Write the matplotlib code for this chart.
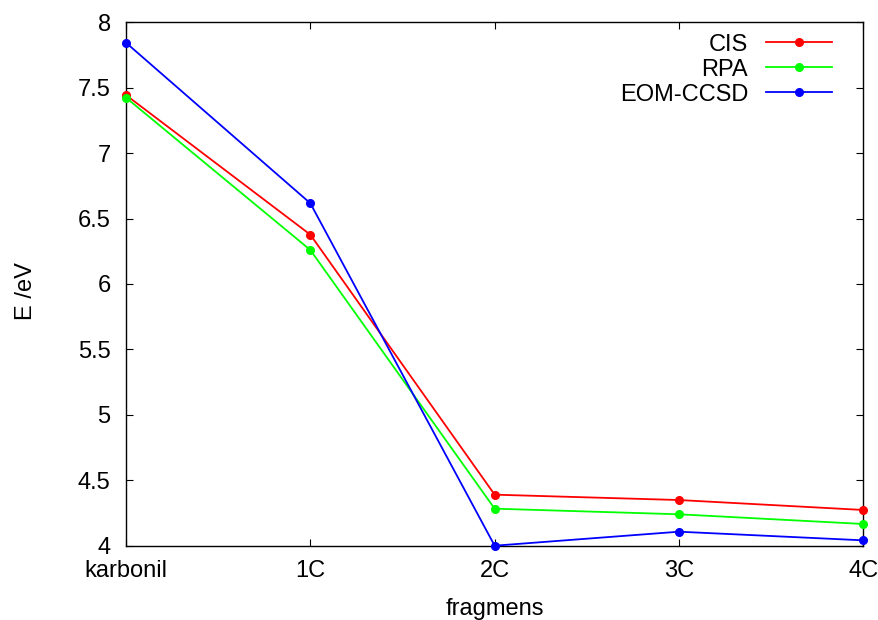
import matplotlib
matplotlib.use("Agg")
from matplotlib import pyplot as plt
from matplotlib.ticker import FuncFormatter

# excitation energies per fragment
fragmens = ["karbonil", "1C", "2C", "3C", "4C"]
cis = [7.444, 6.377, 4.390, 4.349, 4.273]
rpa = [7.424, 6.260, 4.283, 4.240, 4.166]
eom_ccsd = [7.844, 6.617, 4.000, 4.107, 4.041]

plt.rcParams['font.family'] = ['Liberation Sans', 'DejaVu Sans']
plt.rcParams['font.size'] = 17

fig = plt.figure(figsize=(8.79, 6.2), dpi=100)
ax = fig.add_axes([126/879., 1 - 545.7/620., (863.3-126)/879., (545.7-22.3)/620.])

x = range(len(fragmens))
series = [("CIS", cis, "#ff0000"), ("RPA", rpa, "#00ff00"), ("EOM-CCSD", eom_ccsd, "#0000ff")]
for name, vals, col in series:
    ax.plot(x, vals, color=col, lw=1.3, marker='o', ms=5.5, label=name, clip_on=False, zorder=3)

ax.set_xlim(0, len(fragmens) - 1)
ax.set_ylim(4, 8)
ax.set_xticks(list(x))
ax.set_xticklabels(fragmens)
ax.set_yticks([4 + 0.5*i for i in range(9)])
ax.yaxis.set_major_formatter(FuncFormatter(lambda v, p: "%g" % v))
ax.tick_params(direction='in', length=5, width=0.8, top=True, right=True)
ax.tick_params(axis='y', pad=11)
ax.tick_params(axis='x', pad=10)
for s in ax.spines.values():
    s.set_linewidth(1.0)

ax.set_xlabel("fragmens")
ax.xaxis.set_label_coords(0.5, -0.099)
ax.xaxis.label.set_va('top')
ax.set_ylabel("E /eV")
ax.yaxis.set_label_coords(-0.136, 0.487)
ax.yaxis.label.set_va('center')

leg = ax.legend(loc='upper right', bbox_to_anchor=(0.9864, 1.019), frameon=False,
                markerfirst=False, handlelength=2.8, handletextpad=0.75,
                labelspacing=0.13, borderaxespad=0.6, borderpad=0.3)
for t in leg.get_texts():
    t.set_ha('right')

fig.savefig("out.png", dpi=100)
